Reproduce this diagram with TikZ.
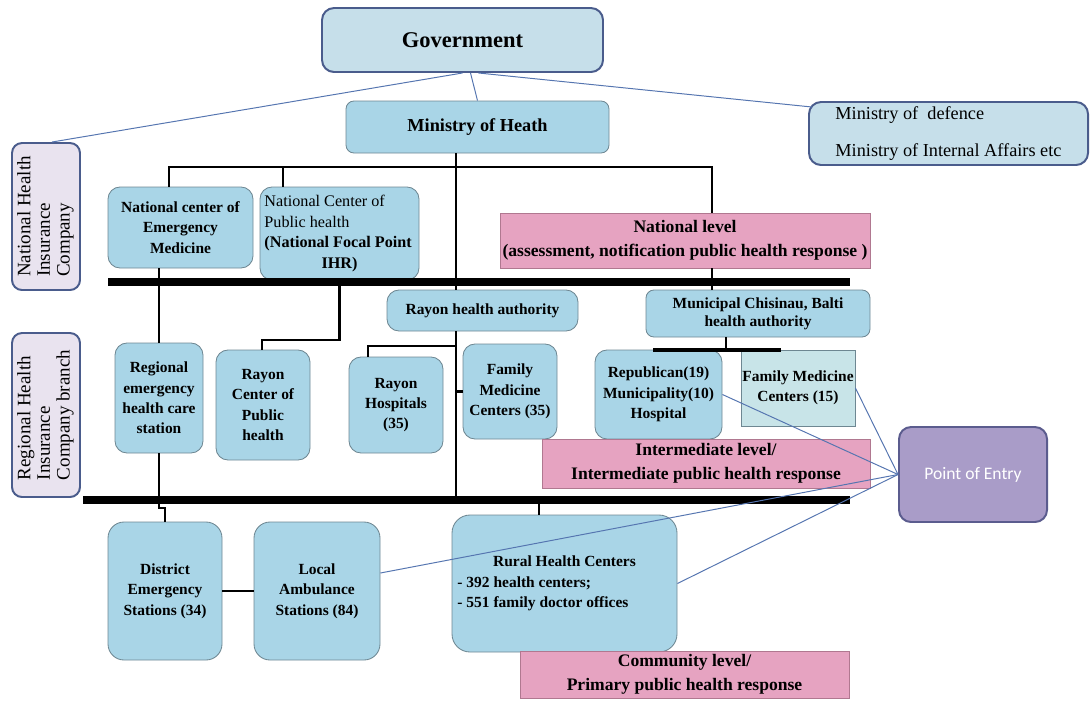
\documentclass[tikz,border=0pt]{standalone}
\usepackage{fontspec}
\setmainfont{Liberation Serif}
\newfontfamily\poefont{Carlito}
\usepackage{graphicx}
\usepackage{tikz}

\definecolor{boxblue}{HTML}{A9D5E7}
\definecolor{govblue}{HTML}{C6DFEA}
\definecolor{govedge}{HTML}{4A5C8C}
\definecolor{boxedge}{HTML}{6E8792}
\definecolor{lvlpink}{HTML}{E6A3C1}
\definecolor{pinkedge}{HTML}{B07890}
\definecolor{insfill}{HTML}{E9E3EF}
\definecolor{poefill}{HTML}{A99CC8}
\definecolor{poeedge}{HTML}{5B5C8E}
\definecolor{fmcfill}{HTML}{C8E4E8}
\definecolor{linkblue}{HTML}{5575B0}

\tikzset{
  wh/.style 2 args={minimum width=#1*0.025cm, minimum height=#2*0.025cm},
  bluebox/.style={draw=boxedge, fill=boxblue, rounded corners=0.3cm, line width=0.6pt,
    align=center, inner sep=0pt, font=\fontsize{11}{14.5}\selectfont\bfseries},
  topbox/.style={draw=govedge, fill=govblue, rounded corners=0.3cm, line width=1.4pt},
  levelbox/.style={draw=pinkedge, fill=lvlpink, line width=0.5pt, inner sep=0pt,
    align=center, font=\fontsize{12.5}{17}\selectfont\bfseries},
  sidebox/.style={draw=govedge, fill=insfill, rounded corners=0.25cm, line width=1.4pt,
    inner sep=0pt, font=\fontsize{13.5}{14}\selectfont},
  tree/.style={line width=1.5pt},
  bar/.style={line width=5pt},
  link/.style={draw=linkblue, line width=0.7pt}
}

\begin{document}
\begin{tikzpicture}[x=0.025cm,y=-0.025cm]
\useasboundingbox (0,0) rectangle (1090,700);

\node[topbox, wh={281}{64}, font=\fontsize{16}{19}\selectfont\bfseries] (gov) at (462.5,40) {Government};
\node[bluebox, rounded corners=0.2cm, wh={263}{52}, font=\fontsize{13}{16}\selectfont\bfseries] (moh) at (477.5,127) {Ministry of Heath};
\node[topbox, wh={279}{63}, align=flush left, font=\fontsize{13}{16}\selectfont] (mod) at (948.5,133.5) {Ministry of\ \ defence\\[10pt]Ministry of Internal Affairs etc};

\node[sidebox, wh={68}{147}] (nhic) at (46,216.5) {\rotatebox{90}{\begin{tabular}{@{}l@{}}National Health\\Insurance\\Company\end{tabular}}};
\node[sidebox, wh={68}{164}] (rhic) at (46,415) {\rotatebox{90}{\begin{tabular}{@{}l@{}}Regional Health\\Insurance\\Company branch\end{tabular}}};

\node[bluebox, wh={145}{81}] (ncem) at (180.5,227.5) {National center of\\Emergency\\Medicine};
\node[bluebox, wh={159}{93}, text width=3.75cm, align=flush left, font=\fontsize{11.5}{14.5}\selectfont] (ncph) at (339.5,233.5) {National Center of\\Public health\\\textbf{(National Focal Point}\par{\centering\textbf{IHR)}\par}};
\node[bluebox, wh={191}{41}] (rha) at (482.5,310.5) {Rayon health authority};
\node[bluebox, rounded corners=0.2cm, wh={224}{47}, font=\fontsize{11}{13}\selectfont\bfseries] (mun) at (758,313.5) {Municipal Chisinau, Balti\\health authority};

\node[bluebox, wh={88}{110}] (rec) at (159,398) {Regional\\emergency\\health care\\station};
\node[bluebox, wh={94}{110}] (rcph) at (263,405) {Rayon\\Center of\\Public\\health};
\node[bluebox, wh={94}{96}] (rh) at (396,405) {Rayon\\Hospitals\\(35)};
\node[bluebox, wh={94}{95}] (fmc) at (510,391.5) {Family\\Medicine\\Centers (35)};
\node[bluebox, wh={127}{89}] (rep) at (658.5,394.5) {Republican(19)\\Municipality(10)\\Hospital};
\node[bluebox, rounded corners=0pt, fill=fmcfill, wh={114}{76}] (fmc15) at (798,388) {Family Medicine\\Centers (15)};

\node[bluebox, rounded corners=0.4cm, wh={114}{138}] (des) at (165,591) {District\\Emergency\\Stations (34)};
\node[bluebox, rounded corners=0.4cm, wh={126}{138}] (las) at (317,591) {Local\\Ambulance\\Stations (84)};
\node[bluebox, rounded corners=0.45cm, wh={225}{137}, text width=5.35cm, align=flush left] (rural) at (564.5,583.5) {{\centering Rural Health Centers\par}- 392 health centers;\\- 551 family doctor offices};

\node[levelbox, wh={370}{55}] (natlvl) at (685,240.5) {National level\\(assessment, notification public health response )};
\node[levelbox, wh={328}{49}] (intlvl) at (706,463.5) {Intermediate level/\\Intermediate public health response};
\node[levelbox, wh={329}{47}] (comm) at (684.5,674.5) {Community level/\\Primary public health response};

\node[draw=poeedge, fill=poefill, rounded corners=0.3cm, line width=1.4pt, wh={148}{95}, text=white, font=\poefont\fontsize{12.5}{15}\selectfont] (poe) at (973,474.5) {Point of Entry};

\coordinate (l1) at (169,167);
\coordinate (l2) at (283,167);
\coordinate (r1) at (712,167);
\coordinate (trunk) at (456,167);
\coordinate (em) at (159,282);
\coordinate (ej) at (165,508);
\coordinate (pj) at (262,340);
\coordinate (rb) at (368,346);
\coordinate (rr) at (539,500);
\coordinate (mj) at (726,350);
\coordinate (ma) at (653,350);
\coordinate (mb) at (781,350);

\draw[tree] (l1 |- ncem.north) -- (l1) -- (r1) -- (r1 |- natlvl.north);
\draw[tree] (r1 |- natlvl.south) -- (r1 |- mun.north);
\draw[tree] (l2) -- (l2 |- ncph.north);
\draw[tree] (trunk |- moh.south) -- (trunk |- rha.north);
\draw[tree] (trunk |- rha.south) -- (trunk |- rr) -- (rr) -- (rr |- rural.north);
\draw[tree] (trunk |- rb) -- (rb) -- (rb |- rh.north);
\draw[tree] (trunk |- fmc.west) -- (fmc.west);
\draw[tree] (em |- ncem.south) -- (em |- rec.north);
\draw[tree] (em |- rec.south) -- (em |- ej) -- (ej) -- (ej |- des.north);
\draw[tree] (ncph.south) -- (ncph.south |- pj) -- (pj) -- (pj |- rcph.north);
\draw[tree] (mj |- mun.south) -- (mj);
\draw[line width=2.5pt] (ma) -- (mb);
\draw[tree] (des) -- (las);

\draw[bar] (108,282) -- (850,282);
\draw[bar] (83,500) -- (850,500);

\draw[link] ([xshift=0.2cm]gov.south) -- (moh.north);
\draw[link] (gov.south) -- ([xshift=0.15cm]nhic.north);
\draw[link] ([xshift=0.4cm]gov.south) -- ([xshift=0.1cm,yshift=-0.15cm]mod.north west);
\foreach \t in {rep.east, fmc15.east, rural.east}{
\draw[link] (poe.west) -- (\t);
}
\draw[link] (poe.west) -- ([yshift=0.45cm]las.east);
\end{tikzpicture}
\end{document}
